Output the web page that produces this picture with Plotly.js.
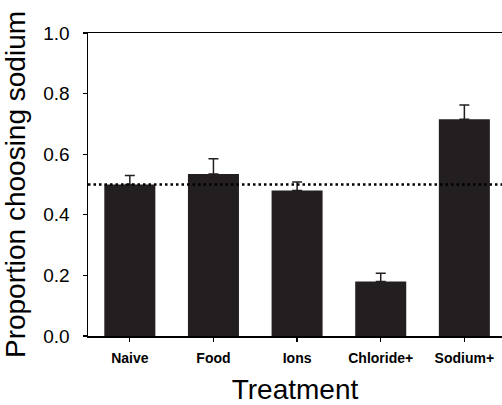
<!DOCTYPE html>
<html>
<head>
<meta charset="utf-8">
<script src="https://cdn.plot.ly/plotly-3.0.1.min.js"></script>
<style>html,body{margin:0;padding:0;background:#fff;}#chart{width:502px;height:405px;}</style>
</head>
<body>
<div id="chart"></div>
<script>
var categories = ["Naive", "Food", "Ions", "Chloride+", "Sodium+"];
var proportions = [0.50, 0.535, 0.48, 0.18, 0.715];
var errors = [0.03, 0.05, 0.028, 0.027, 0.047];
var chanceLevel = 0.5;
var yTicks = [0, 0.2, 0.4, 0.6, 0.8, 1.0];

var barColor = "#231f20";

var trace = {
  type: "bar",
  x: categories,
  y: proportions,
  width: 0.61,
  marker: {color: barColor, line: {width: 0}},
  error_y: {type: "data", array: errors, symmetric: false, arrayminus: [0,0,0,0,0], color: barColor, thickness: 1.5, width: 5},
  hoverinfo: "none"
};

var layout = {
  width: 502,
  height: 405,
  margin: {l: 88, r: 0, t: 33, b: 69},
  paper_bgcolor: "#ffffff",
  plot_bgcolor: "#ffffff",
  showlegend: false,
  font: {family: "Liberation Sans, Arial, sans-serif", color: "#000"},
  xaxis: {
    type: "category",
    range: [-0.5, 4.45],
    showline: true,
    linecolor: "#000",
    linewidth: 1.5,
    mirror: true,
    ticks: "outside",
    ticklen: 4,
    tickwidth: 1.2,
    tickcolor: "#000",
    showgrid: false,
    zeroline: false,
    ticklabelstandoff: 5,
    tickfont: {size: 14, weight: "bold", family: "Liberation Sans, Arial, sans-serif"},
    title: {text: "Treatment", font: {size: 28}, standoff: 18}
  },
  yaxis: {
    range: [0, 1.0],
    tickvals: yTicks,
    tickformat: ".1f",
    showline: true,
    linecolor: "#000",
    linewidth: 1.5,
    ticks: "outside",
    ticklen: 4,
    tickwidth: 1.2,
    tickcolor: "#000",
    showgrid: false,
    zeroline: false,
    tickfont: {size: 19},
    ticklabelstandoff: 9,
    title: {text: "Proportion choosing sodium", font: {size: 28}, standoff: 10}
  },
  shapes: [{
    type: "line",
    xref: "paper", x0: 0, x1: 1,
    yref: "y", y0: chanceLevel, y1: chanceLevel,
    line: {color: "#000", width: 2.5, dash: "2.5px,3px"},
    layer: "above"
  }]
};

Plotly.newPlot("chart", [trace], layout, {displayModeBar: false, staticPlot: true});
</script>
</body>
</html>
